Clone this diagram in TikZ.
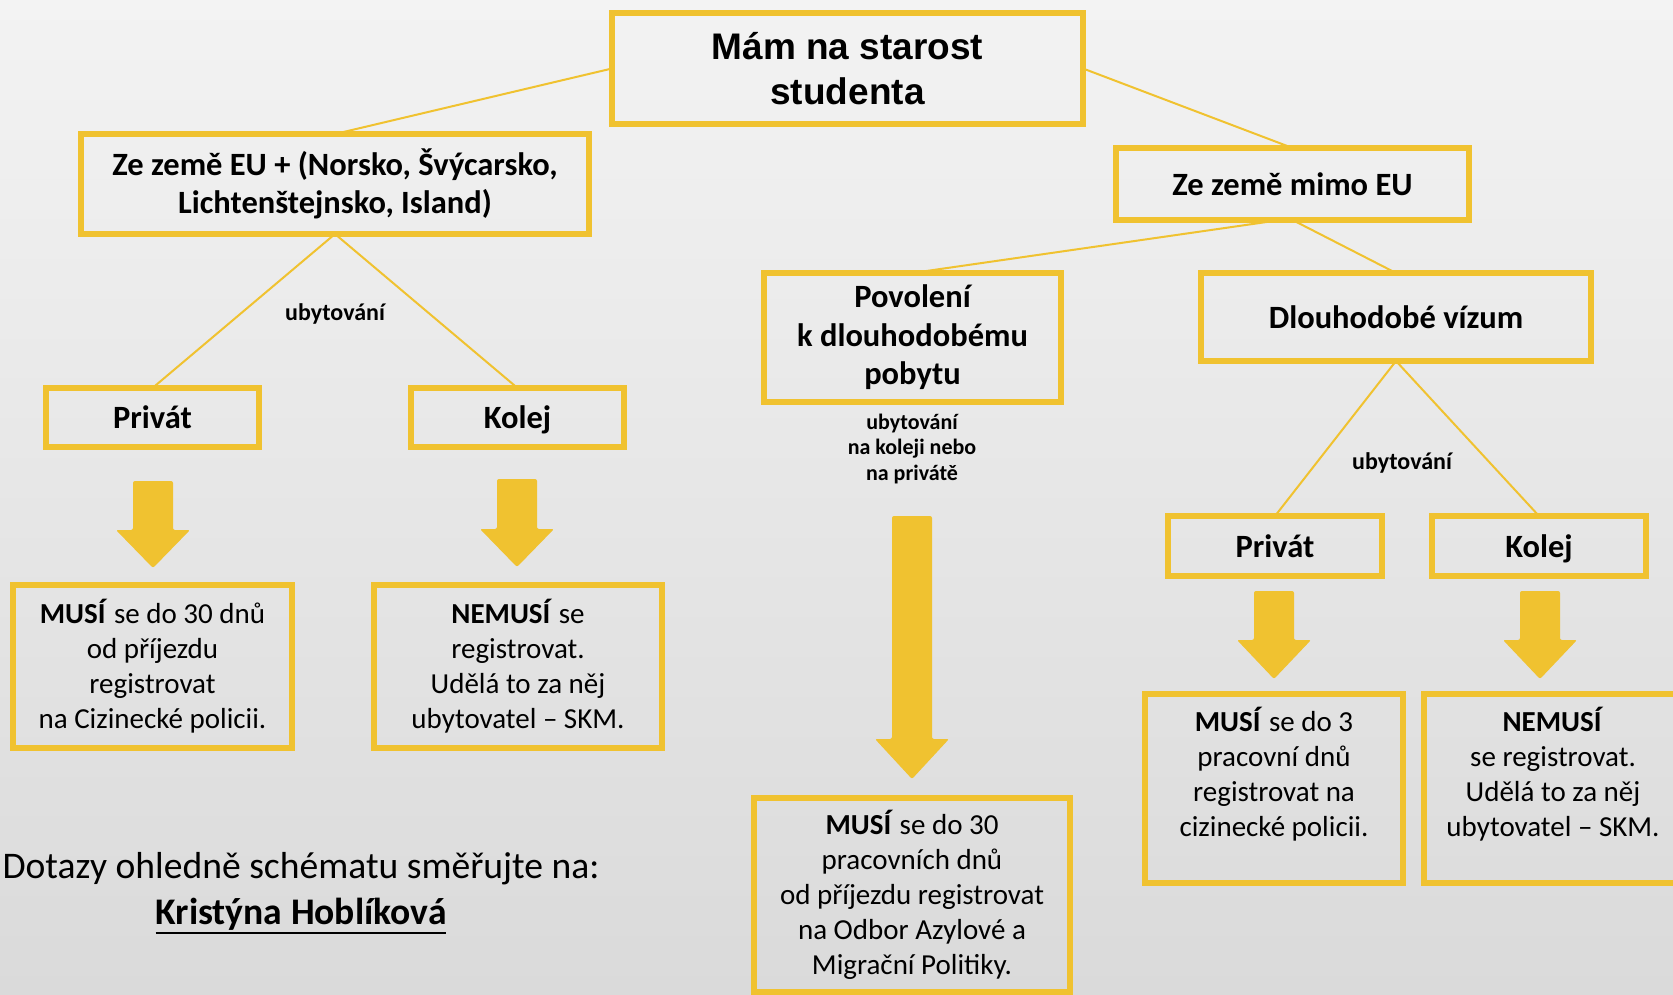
\documentclass[tikz,border=0pt]{standalone}
\usepackage{fontspec}
\setmainfont{Carlito}
\newfontfamily\arialfont{Liberation Sans}
\usepackage{xcolor}
\usepackage{tikz}
\usetikzlibrary{arrows.meta, positioning, calc}
\definecolor{skmyellow}{RGB}{240,194,48}
\definecolor{bgtop}{RGB}{243,243,243}
\definecolor{bgmid}{RGB}{238,238,238}
\definecolor{bgbottom}{RGB}{218,218,218}
\newcommand\ulname[1]{\leavevmode\vtop{\hbox{#1}\kern1.5pt\hrule height 2.2pt}}

\begin{document}
\begin{tikzpicture}[x=1pt, y=-1pt,
  box/.style={rectangle, draw=skmyellow, line width=6pt, inner sep=0pt,
    outer sep=0pt, align=center, text=black},
  head/.style={box, font=\fontsize{32.5}{38.5}\selectfont\bfseries},
  body/.style={box, font=\fontsize{29}{35}\selectfont},
  tag/.style={font=\fontsize{22}{25.5}\selectfont\bfseries, align=center},
  link/.style={draw=skmyellow, line width=2pt},
  barrow/.style={fill=skmyellow, rounded corners=2pt}
]
  \useasboundingbox (0,0) rectangle (1673,995);
  \shade[top color=bgtop, middle color=bgmid, bottom color=bgbottom]
    (0,0) rectangle (1673,995);

  %% root
  \node[box, minimum width=471pt, minimum height=111pt,
    font=\arialfont\fontsize{37}{45}\selectfont\bfseries] (root) at (847.5, 68.5)
    {Mám na starost\\studenta};

  %% EU branch
  \node[head, minimum width=508pt, minimum height=100pt] (eu) at (335, 184)
    {Ze země EU + (Norsko, Švýcarsko,\\Lichtenštejnsko, Island)};
  \node[head, minimum width=213pt, minimum height=59pt] (privL) at (152.5, 417.5) {Privát};
  \node[head, minimum width=213pt, minimum height=59pt, text depth=0pt] (kolejL) at (517.5, 417.5) {Kolej};
  \node[tag, font=\fontsize{24}{27}\selectfont\bfseries] (ubyL) at (335, 314) {ubytování};

  \node[body, minimum width=279pt, minimum height=163pt] (musiL) at (152.5, 666.5)
    {\textbf{MUSÍ} se do 30 dnů\\od příjezdu\\registrovat\\na Cizinecké policii.};
  \node[body, minimum width=288pt, minimum height=163pt] (nemusiL) at (518, 666.5)
    {\textbf{NEMUSÍ} se\\registrovat.\\Udělá to za něj\\ubytovatel -- SKM.};

  %% non-EU branch
  \node[head, minimum width=353pt, minimum height=72pt] (mimo) at (1292.5, 184)
    {Ze země mimo EU};
  \node[head, minimum width=297pt, minimum height=129pt] (pobyt) at (912.5, 337.5)
    {Povolení\\k dlouhodobému\\pobytu};
  \node[head, minimum width=390pt, minimum height=88pt] (vizum) at (1396, 317)
    {Dlouhodobé vízum};
  \node[tag] (ubyM) at (912, 449) {ubytování\\na koleji nebo\\na privátě};
  \node[body, minimum width=316pt, minimum height=194pt] (musiM) at (912, 895)
    {\textbf{MUSÍ} se do 30\\pracovních dnů\\od příjezdu registrovat\\na Odbor Azylové a\\Migrační Politiky.};

  \node[head, minimum width=214pt, minimum height=60pt] (privR) at (1275, 546) {Privát};
  \node[head, minimum width=214pt, minimum height=60pt, text depth=0pt] (kolejR) at (1539, 546) {Kolej};
  \node[tag, font=\fontsize{24}{27}\selectfont\bfseries] (ubyR) at (1402, 463) {ubytování};

  \node[body, minimum width=258pt, minimum height=189pt, text depth=34pt] (musiR) at (1274, 788.5)
    {\textbf{MUSÍ} se do 3\\pracovní dnů\\registrovat na\\cizinecké policii.};
  \node[body, minimum width=258pt, minimum height=189pt, text depth=34pt] (nemusiR) at (1553, 788.5)
    {\textbf{NEMUSÍ}\\se registrovat.\\Udělá to za něj\\ubytovatel -- SKM.};

  %% contact
  \node[font=\fontsize{37.6}{46}\selectfont, align=center] (contact) at (301, 893)
    {Dotazy ohledně schématu směřujte na:\\\ulname{\textbf{Kristýna Hoblíková}}};

  %% thin connectors
  \draw[link] (root.west) -- (eu.north);
  \draw[link] (root.east) -- (mimo.north);
  \draw[link] (eu.south) -- (privL.north);
  \draw[link] (eu.south) -- (kolejL.north);
  \draw[link] ([xshift=-12pt]mimo.south) -- (pobyt.north);
  \draw[link] (mimo.south) -- (vizum.north);
  \draw[link] (vizum.south) -- (privR.north);
  \draw[link] (vizum.south) -- (kolejR.north);

  %% block arrows: centre x / top / head base / tip
  \foreach \x/\t/\b/\e in {153/481/530/568, 517/479/529/567, 912/516/739/779,
                           1274/591/640/679, 1540/591/640/679}
    \fill[barrow] (\x-20,\t) -- (\x+20,\t) -- (\x+20,\b) -- (\x+37,\b)
      -- (\x,\e) -- (\x-37,\b) -- (\x-20,\b) -- cycle;

\end{tikzpicture}
\end{document}
